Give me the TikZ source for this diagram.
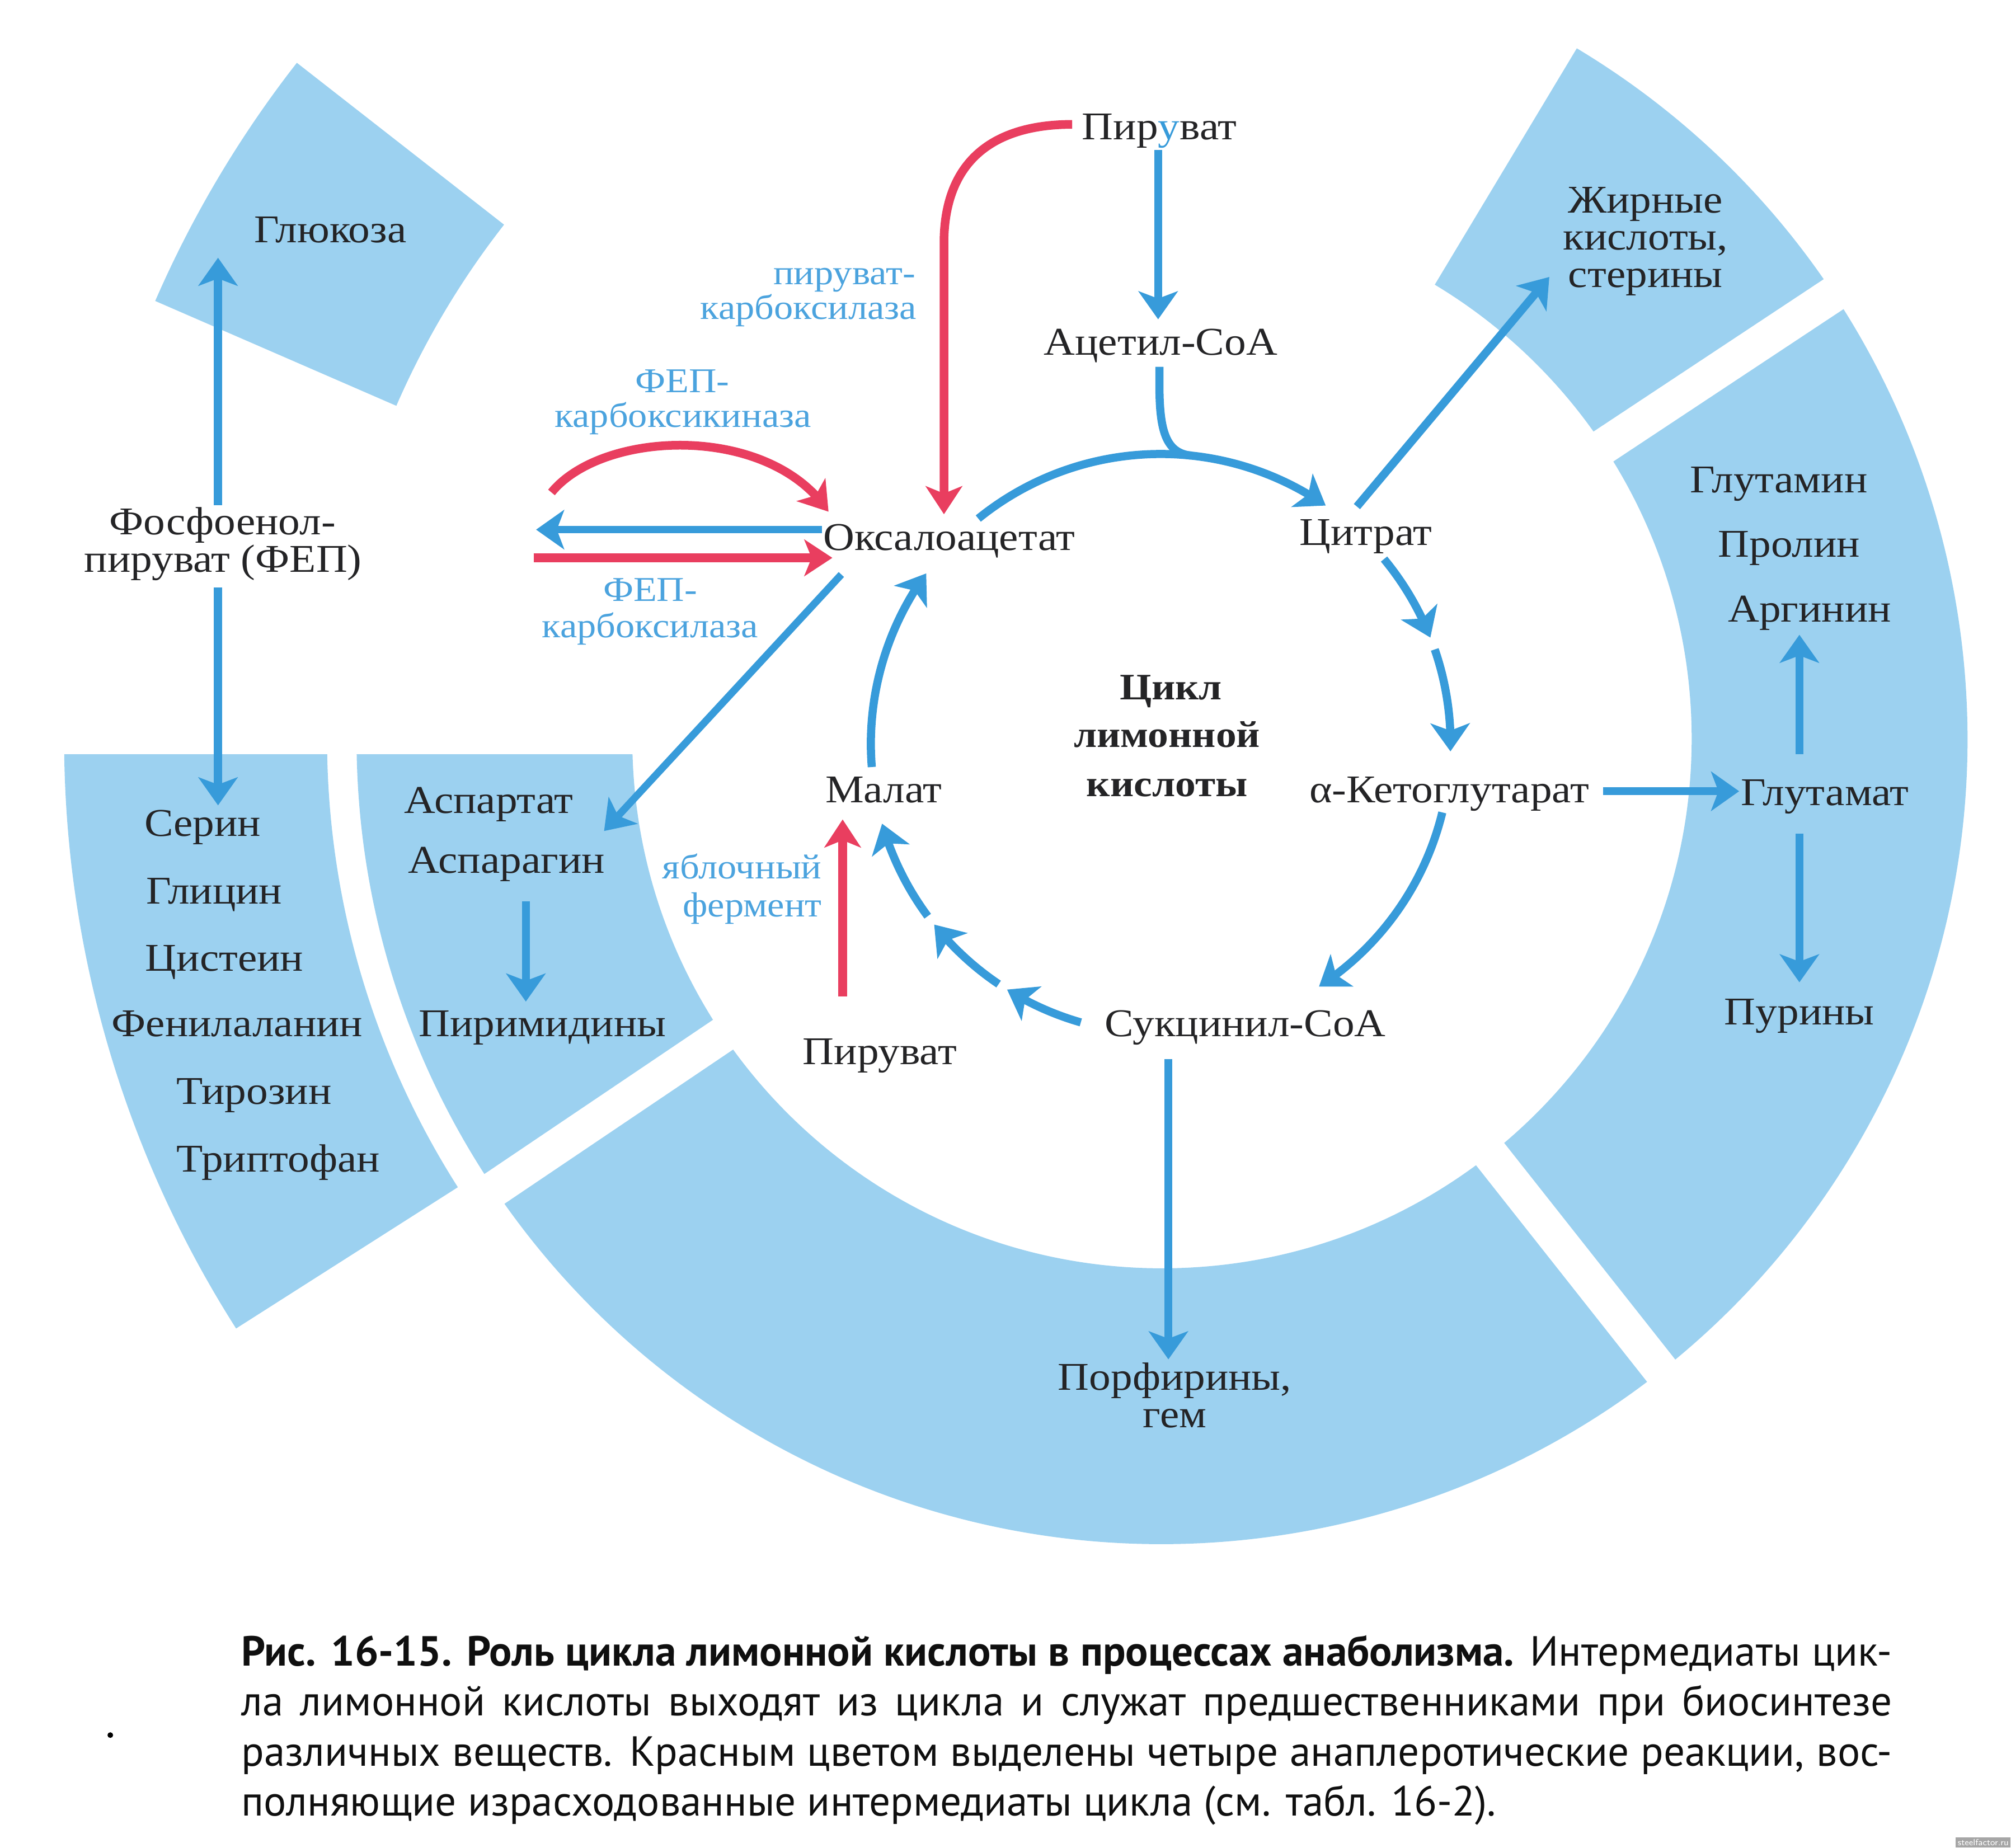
\documentclass[tikz,border=0pt]{standalone}
\usepackage{fontspec}
\setmainfont{Liberation Serif}[FakeStretch=1.1]
\newfontfamily\capfont{PT Sans}
\usetikzlibrary{arrows.meta,calc,bending}
\definecolor{ringc}{RGB}{156,209,240}
\definecolor{ablue}{RGB}{55,155,218}
\definecolor{ared}{RGB}{233,62,95}
\definecolor{txtc}{RGB}{36,36,38}
\definecolor{enzc}{RGB}{75,163,222}
\definecolor{capc}{RGB}{15,15,15}
\newcommand\ringpiece[4]{%
  \fill[ringc] ($(rc)+(#1:#3)$) arc[start angle=#1,end angle=#2,radius=#3]
    -- ($(rc)+(#2:#4)$) arc[start angle=#2,end angle=#1,radius=#4] -- cycle;}
\tikzset{
  lbl/.style={font=\fontsize{20}{20}\selectfont, text=txtc, inner sep=0pt, anchor=base},
  enz/.style={font=\fontsize{17.7}{17.7}\selectfont, text=enzc, inner sep=0pt, anchor=base},
  enzr/.style={enz, anchor=base east},
  ctr/.style={font=\fontsize{19}{19}\selectfont\bfseries, text=txtc, inner sep=0pt, anchor=base},
  barrow/.style={draw=ablue, line width=1.45mm, -{Stealth[length=5mm,width=7mm,inset=1.3mm]}},
  rarrow/.style={draw=ared, line width=1.55mm, -{Stealth[length=5mm,width=6.5mm,inset=1.3mm]}},
  bline/.style={draw=ablue, line width=1.45mm},
  gapline/.style={draw=white, line width=0.64cm},
  capline/.style={font=\capfont\fontsize{21.4}{26}\selectfont, text=capc, inner sep=0pt, anchor=base west},
}
\begin{document}
\begin{tikzpicture}[x=0.02292cm,y=0.02292cm]
\useasboundingbox (0,0) rectangle (1568,-1441);
\fill[white] (0,0) rectangle (1568,-1441);
\coordinate (rc) at (906,-576);
\coordinate (cc) at (905,-580);
% ---------- ring pieces ----------
\ringpiece{180}{419}{413}{628}
\ringpiece{142}{156.5}{651}{856}
\ringpiece{180}{212.5}{651}{856}
\fill[white] (30,-560) rectangle (520,-588);
\draw[gapline] ($(rc)+(214:395)$) -- ($(rc)+(214:645)$);
\draw[gapline] ($(rc)+(308.3:395)$) -- ($(rc)+(308.3:645)$);
\draw[gapline] ($(rc)+(33.5:395)$) -- ($(rc)+(33.5:645)$);
% ---------- labels ----------
\node[lbl] (pyr1) at (904,-109) {Пир{\color{ablue}у}ват};
\node[lbl] (acoa) at (905,-277) {Ацетил-CoA};
\node[lbl] (oaa) at (740,-429) {Оксалоацетат};
\node[lbl] (cit) at (1065,-425) {Цитрат};
\node[lbl] (akg) at (1130,-626) {α-Кетоглутарат};
\node[lbl] (succ) at (971,-808) {Сукцинил-CoA};
\node[lbl] (mal) at (689,-626) {Малат};
\node[lbl] (pyr2) at (686,-830) {Пируват};
\node[ctr] (cyc1) at (913,-545.5) {Цикл};
\node[ctr] (cyc2) at (910,-582.5) {лимонной};
\node[ctr] (cyc3) at (910,-621) {кислоты};
\node[lbl] (fa1) at (1283,-166) {Жирные};
\node[lbl] (fa2) at (1283,-195) {кислоты,};
\node[lbl] (fa3) at (1283,-224) {стерины};
\node[lbl] (gln) at (1387,-384) {Глутамин};
\node[lbl] (pro) at (1395,-434.5) {Пролин};
\node[lbl] (arg) at (1411,-485) {Аргинин};
\node[lbl] (glu) at (1423,-628) {Глутамат};
\node[lbl] (pur) at (1403,-799) {Пурины};
\node[lbl] (por1) at (916,-1084) {Порфирины,};
\node[lbl] (por2) at (916,-1113) {гем};
\node[lbl] (asp) at (381,-634) {Аспартат};
\node[lbl] (asn) at (395,-681) {Аспарагин};
\node[lbl] (pyrim) at (423,-808) {Пиримидины};
\node[lbl] (ser) at (158,-652) {Серин};
\node[lbl] (gly) at (167,-705) {Глицин};
\node[lbl] (cys) at (175,-757) {Цистеин};
\node[lbl] (phe) at (185,-808) {Фенилаланин};
\node[lbl] (tyr) at (198,-861) {Тирозин};
\node[lbl] (trp) at (217,-914) {Триптофан};
\node[lbl] (gluc) at (257.5,-189) {Глюкоза};
\node[lbl] (pep1) at (173.5,-417) {Фосфоенол-};
\node[lbl] (pep2) at (174,-446) {пируват (ФЕП)};
% enzyme labels
\node[enzr] (pc1) at (714,-222) {пируват-};
\node[enzr] (pc2) at (715,-249) {карбоксилаза};
\node[enz] (pck1) at (532,-306) {ФЕП-};
\node[enz] (pck2) at (532.5,-333) {карбоксикиназа};
\node[enz] (ppc1) at (507,-469) {ФЕП-};
\node[enz] (ppc2) at (507,-497) {карбоксилаза};
\node[enzr] (me1) at (641,-685) {яблочный};
\node[enzr] (me2) at (641,-715) {фермент};
% ---------- red anaplerotic arrows ----------
\draw[rarrow] ($(pyr1.base)+(-68,12)$) .. controls +(-61,0) and +(0,65) .. ++(-100,-93)
   -- ($(oaa.base)+(-4,28)$);
\draw[rarrow] ($(pep2.base)+(256,62)$) .. controls +(40,49) and ($(oaa.base)+(-140,99)$) .. ($(oaa.base)+(-94,30)$);
\draw[rarrow] ($(pep2.base)+(242,11)$) -- ($(oaa.base)+(-91,-6)$);
\draw[rarrow] ($(pyr2.base)+(-29,53)$) -- ($(mal.base)+(-32,-13)$);
% ---------- blue arrows ----------
\draw[barrow] ($(pyr1.base)+(-1,-8)$) -- ($(acoa.base)+(-2,28)$);
\draw[bline] ($(acoa.base)+(-1,-9)$) -- ++(0,-14) .. controls +(0,-35) and ($(cc)+(84:226)+(-20,2)$) .. ($(cc)+(84:226)$);
\draw[barrow, line width=1.35mm] ($(oaa.base)+(-99,16)$) -- ($(pep2.base)+(244,33)$);
\draw[barrow, line width=1.3mm] ($(oaa.base)+(-84,-19)$) -- ($(asp.base)+(90,-14)$);
\draw[barrow] ($(cit.base)+(-7,30)$) -- ($(fa3.base)+(-75,8)$);
\draw[barrow] ($(akg.base)+(120,9)$) -- ($(glu.base)+(-67,11)$);
\draw[barrow] ($(glu.base)+(-20,40)$) -- ($(arg.base)+(-8,-10)$);
\draw[barrow] ($(glu.base)+(-20,-22)$) -- ($(pur.base)+(0,33)$);
\draw[barrow] ($(succ.base)+(-60,-18)$) -- ($(por1.base)+(-5,24)$);
\draw[barrow] ($(asn.base)+(15,-22)$) -- ($(pyrim.base)+(-13,27)$);
\draw[barrow] ($(pep1.base)+(-3.5,23)$) -- ($(gluc.base)+(-87.5,-12)$);
\draw[barrow] ($(pep2.base)+(-4,-12)$) -- ($(ser.base)+(12,24)$);
% ---------- cycle arcs ----------
\draw[barrow] ($(cc)+(129:226)$) arc[start angle=129,end angle=55.3,radius=226];
\draw[barrow] ($(cc)+(39.6:226)$) arc[start angle=39.6,end angle=21.5,radius=226];
\draw[barrow] ($(cc)+(19:226)$) arc[start angle=19,end angle=-1.5,radius=226];
\draw[barrow] ($(cc)+(-13.7:226)$) arc[start angle=-13.7,end angle=-56.9,radius=226];
\draw[barrow] ($(cc)+(-106:226)$) arc[start angle=-106,end angle=-122,radius=226];
\draw[barrow] ($(cc)+(-124:226)$) arc[start angle=-124,end angle=-141.4,radius=226];
\draw[barrow] ($(cc)+(-143.5:226)$) arc[start angle=-143.5,end angle=-164,radius=226];
\draw[barrow] ($(cc)+(184.6:226)$) arc[start angle=184.6,end angle=144,radius=226];
% ---------- caption ----------
\node[capline] (cap1) at (188,-1299) {\makebox[29.5cm][s]{{\bfseries Рис. 16-15. Роль цикла лимонной кислоты в процессах анаболизма.} Интермедиаты цик-}};
\node[capline] (cap2) at (188,-1338) {\makebox[29.5cm][s]{ла лимонной кислоты выходят из цикла и служат предшественниками при биосинтезе}};
\node[capline] (cap3) at (188,-1377) {\makebox[29.5cm][s]{различных веществ. Красным цветом выделены четыре анаплеротические реакции, вос-}};
\node[capline] (cap4) at (188,-1416) {полняющие израсходованные интермедиаты цикла (см. табл. 16-2).};
\fill[black] (86,-1353) circle (2.2);
\node[fill=black!35, text=white, font=\sffamily\fontsize{4.5}{4.5}\selectfont, inner sep=1pt, anchor=south east] (wm) at (1568,-1441) {steelfactor.ru};
\end{tikzpicture}
\end{document}
